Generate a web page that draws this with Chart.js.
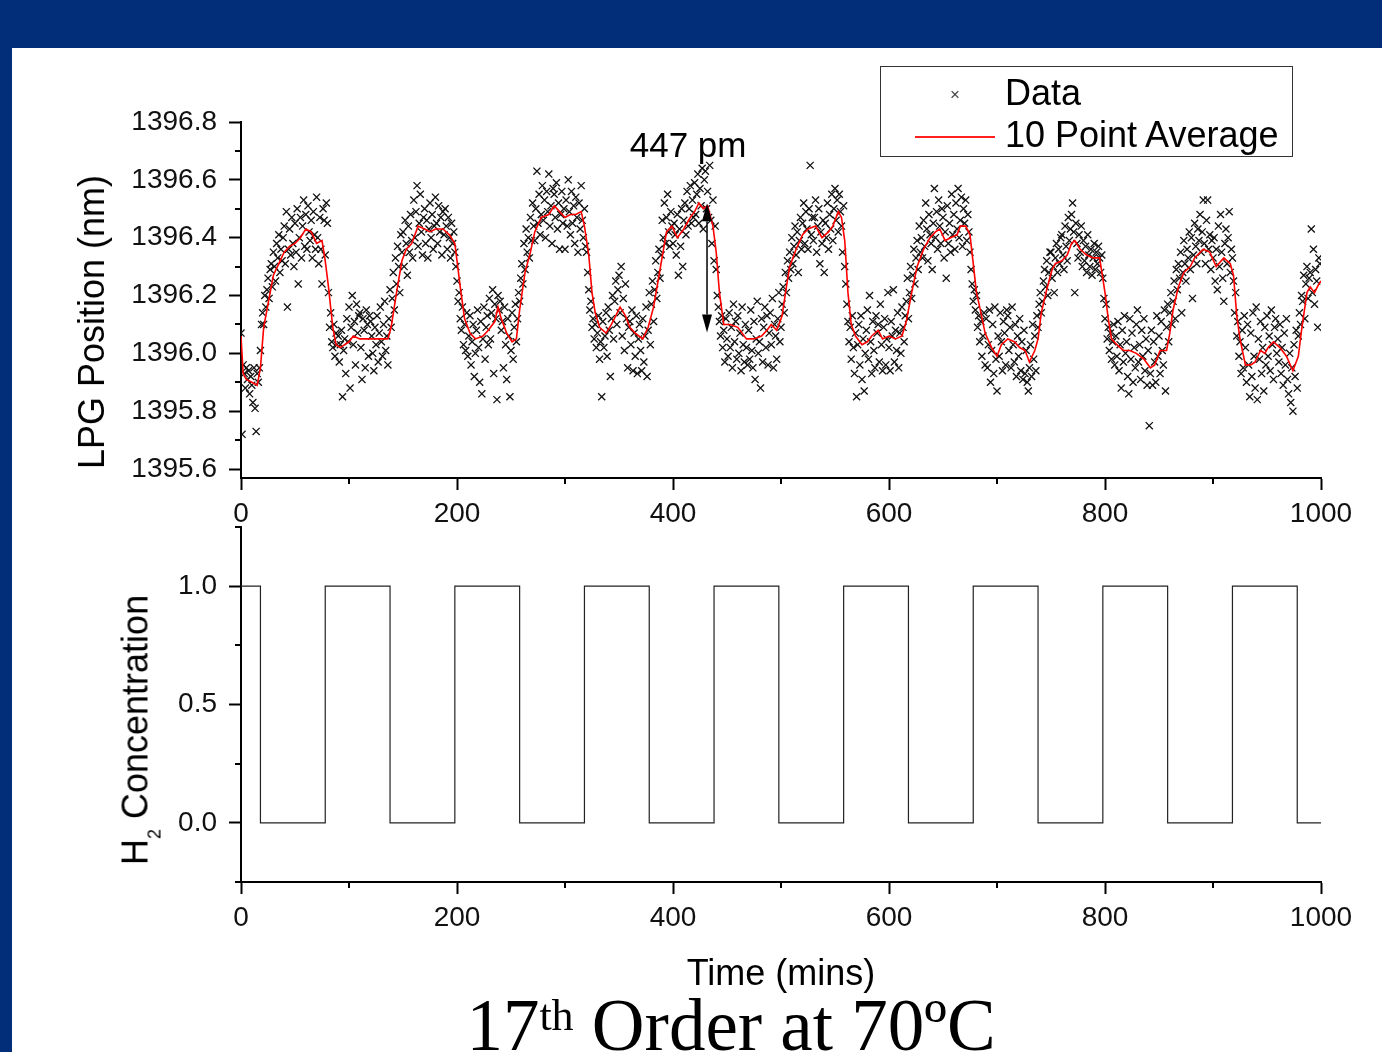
<!DOCTYPE html>
<html lang="en">

<head>
    <meta charset="UTF-8">
    <title>LPG Position - 17th Order at 70ºC</title>

    <!-- Chart.js -->
    <script src="https://cdn.jsdelivr.net/npm/chart.js@4"></script>

    <style>
        body {
            margin: 0;
            width: 1382px;
            height: 1052px;
            overflow: hidden;
            position: relative;
            background-color: #022d78;
            font-family: 'Liberation Sans', Arial, sans-serif;
            color: #000;
        }

        .panel {
            position: absolute;
            left: 12px;
            top: 48px;
            right: 0;
            bottom: 0;
            background-color: #fff;
        }

        canvas {
            position: absolute;
            left: 0;
            top: 0;
        }

        .label {
            position: absolute;
            font-size: 36px;
            line-height: 1;
            white-space: nowrap;
        }

        .rotated {
            transform: translate(-50%, -50%) rotate(-90deg);
        }

        .rotated sub {
            font-size: 18px;
            line-height: 0;
            vertical-align: -13px;
        }

        .legend {
            position: absolute;
            left: 880px;
            top: 66px;
            width: 411px;
            height: 89px;
            border: 1.5px solid #333;
        }

        .legend-marker {
            position: absolute;
            font-size: 17px;
            line-height: 1;
            color: #444;
            transform: translate(-50%, -50%);
        }

        .legend-line {
            position: absolute;
            height: 1.5px;
            background-color: #ff2020;
        }

        .slide-title {
            position: absolute;
            left: 731px;
            top: 989px;
            transform: translateX(-50%);
            font-family: 'Liberation Serif', 'Times New Roman', serif;
            font-size: 73px;
            line-height: 1;
            white-space: nowrap;
        }

        .slide-title sup {
            font-size: 44px;
            line-height: 0;
            vertical-align: 20px;
        }
    </style>
</head>

<body>
    <div class="panel"></div>

    <canvas id="lpgChart" width="1382" height="1052"></canvas>
    <canvas id="h2Chart" width="1382" height="1052"></canvas>

    <!-- Axis titles -->
    <div class="label rotated" style="left: 92px; top: 322px;">LPG Position (nm)</div>
    <div class="label rotated" style="left: 136px; top: 730px;">H<sub>2</sub> Concentration</div>
    <div class="label" style="left: 781px; top: 955px; transform: translateX(-50%);">Time (mins)</div>

    <!-- Legend -->
    <div class="legend"></div>
    <div class="legend-marker" style="left: 955px; top: 94px;">×</div>
    <div class="label" style="left: 1005px; top: 75px;">Data</div>
    <div class="legend-line" style="left: 915px; top: 136px; width: 80px;"></div>
    <div class="label" style="left: 1005px; top: 117px;">10 Point Average</div>

    <div class="slide-title">17<sup>th</sup> Order at 70ºC</div>

    <script>
        // Axis ticks
        const timeTicks = [0, 200, 400, 600, 800, 1000];
        const timeMinorTicks = [100, 300, 500, 700, 900];
        const lpgTicks = [1395.6, 1395.8, 1396.0, 1396.2, 1396.4, 1396.6, 1396.8];
        const lpgMinorTicks = [1395.7, 1395.9, 1396.1, 1396.3, 1396.5, 1396.7];
        const h2Ticks = [0, 0.5, 1.0];
        const h2MinorTicks = [-0.25, 0.25, 0.75, 1.25];

        // Raw LPG position (nm), one reading per minute from t = 0
        const sampleMinutes = 1;
        const lpgPosition = [
            1396.07, 1395.72, 1395.96, 1395.93, 1395.88, 1395.95, 1395.91, 1395.94, 1395.86, 1395.92,
            1395.89, 1395.83, 1395.95, 1395.81, 1395.73, 1395.93, 1395.90, 1395.95, 1396.01, 1396.10,
            1396.14, 1396.10, 1396.20, 1396.16, 1396.22, 1396.26, 1396.19, 1396.29, 1396.31, 1396.23,
            1396.35, 1396.30, 1396.25, 1396.38, 1396.33, 1396.41, 1396.28, 1396.36, 1396.32, 1396.40,
            1396.44, 1396.31, 1396.49, 1396.16, 1396.36, 1396.43, 1396.34, 1396.47, 1396.38, 1396.30,
            1396.45, 1396.35, 1396.50, 1396.24, 1396.40, 1396.47, 1396.33, 1396.44, 1396.53, 1396.37,
            1396.48, 1396.36, 1396.51, 1396.42, 1396.39, 1396.46, 1396.33, 1396.49, 1396.41, 1396.36,
            1396.54, 1396.40, 1396.31, 1396.47, 1396.36, 1396.24, 1396.50, 1396.46, 1396.34, 1396.52,
            1396.45, 1396.21, 1396.09, 1396.14, 1396.04, 1396.02, 1396.10, 1395.99, 1396.07, 1396.03,
            1396.06, 1395.97, 1396.03, 1396.08, 1395.85, 1396.01, 1396.05, 1395.93, 1396.12, 1396.04,
            1396.16, 1395.88, 1396.09, 1396.20, 1396.03, 1396.11, 1395.96, 1396.17, 1396.07, 1396.13,
            1396.14, 1396.02, 1395.91, 1396.12, 1396.08, 1395.95, 1396.15, 1396.10, 1395.99, 1396.13,
            1396.11, 1396.06, 1396.00, 1395.94, 1396.09, 1396.03, 1396.13, 1395.97, 1396.07, 1396.16,
            1396.04, 1395.99, 1396.10, 1396.18, 1396.01, 1396.06, 1395.96, 1396.12, 1396.22, 1396.09,
            1396.19, 1396.28, 1396.15, 1396.33, 1396.24, 1396.37, 1396.30, 1396.21, 1396.41, 1396.35,
            1396.42, 1396.30, 1396.46, 1396.38, 1396.27, 1396.44, 1396.35, 1396.48, 1396.39, 1396.33,
            1396.53, 1396.40, 1396.49, 1396.58, 1396.37, 1396.45, 1396.55, 1396.42, 1396.34, 1396.47,
            1396.50, 1396.38, 1396.46, 1396.33, 1396.43, 1396.52, 1396.40, 1396.48, 1396.36, 1396.44,
            1396.54, 1396.45, 1396.38, 1396.51, 1396.42, 1396.47, 1396.34, 1396.49, 1396.41, 1396.50,
            1396.44, 1396.36, 1396.47, 1396.40, 1396.33, 1396.45, 1396.38, 1396.42, 1396.35, 1396.30,
            1396.25, 1396.18, 1396.21, 1396.12, 1396.08, 1396.16, 1396.03, 1396.10, 1396.01, 1396.14,
            1395.99, 1396.06, 1396.13, 1395.96, 1396.04, 1396.10, 1395.92, 1396.00, 1396.08, 1396.15,
            1396.02, 1395.90, 1396.11, 1395.86, 1396.05, 1396.16, 1395.98, 1396.09, 1396.13, 1396.03,
            1396.19, 1396.05, 1396.14, 1396.22, 1395.93, 1396.17, 1396.12, 1395.84, 1396.20, 1396.15,
            1396.18, 1396.08, 1396.11, 1395.95, 1396.16, 1396.03, 1395.91, 1396.12, 1396.06, 1395.85,
            1396.01, 1396.14, 1395.98, 1396.09, 1396.17, 1396.04, 1396.12, 1396.21, 1396.18, 1396.26,
            1396.31, 1396.24, 1396.38, 1396.29, 1396.43, 1396.35, 1396.40, 1396.33, 1396.47, 1396.39,
            1396.52, 1396.44, 1396.39, 1396.50, 1396.63, 1396.45, 1396.55, 1396.41, 1396.48, 1396.58,
            1396.46, 1396.53, 1396.40, 1396.56, 1396.49, 1396.62, 1396.44, 1396.51, 1396.38, 1396.57,
            1396.55, 1396.47, 1396.59, 1396.43, 1396.52, 1396.36, 1396.48, 1396.56, 1396.45, 1396.50,
            1396.36, 1396.53, 1396.44, 1396.60, 1396.49, 1396.41, 1396.56, 1396.45, 1396.51, 1396.38,
            1396.54, 1396.47, 1396.35, 1396.52, 1396.43, 1396.58, 1396.46, 1396.40, 1396.50, 1396.37,
            1396.35, 1396.28, 1396.22, 1396.15, 1396.18, 1396.09, 1396.12, 1396.05, 1396.10, 1396.02,
            1396.07, 1396.13, 1395.98, 1396.04, 1395.85, 1396.11, 1396.02, 1396.06, 1396.14, 1395.99,
            1396.16, 1396.08, 1395.92, 1396.12, 1396.20, 1396.05, 1396.18, 1396.25, 1396.10, 1396.22,
            1396.27, 1396.14, 1396.30, 1396.06, 1396.19, 1396.01, 1396.24, 1396.12, 1395.95, 1396.09,
            1396.11, 1396.03, 1396.15, 1395.94, 1396.07, 1395.99, 1396.13, 1395.93, 1396.05, 1396.10,
            1396.01, 1395.94, 1396.12, 1395.97, 1396.06, 1396.16, 1395.92, 1396.08, 1396.21, 1396.03,
            1396.17, 1396.25, 1396.11, 1396.22, 1396.32, 1396.19, 1396.28, 1396.36, 1396.26, 1396.34,
            1396.46, 1396.40, 1396.52, 1396.38, 1396.47, 1396.55, 1396.42, 1396.37, 1396.49, 1396.44,
            1396.38, 1396.45, 1396.41, 1396.34, 1396.48, 1396.27, 1396.43, 1396.37, 1396.50, 1396.30,
            1396.46, 1396.52, 1396.41, 1396.56, 1396.44, 1396.50, 1396.58, 1396.45, 1396.53, 1396.47,
            1396.59, 1396.48, 1396.55, 1396.62, 1396.45, 1396.57, 1396.51, 1396.64, 1396.43, 1396.60,
            1396.63, 1396.50, 1396.56, 1396.47, 1396.65, 1396.46, 1396.38, 1396.53, 1396.32, 1396.44,
            1396.29, 1396.20, 1396.16, 1396.11, 1396.06, 1396.13, 1396.02, 1396.08, 1395.97, 1396.12,
            1396.05, 1395.99, 1396.14, 1396.02, 1396.09, 1395.95, 1396.17, 1396.04, 1396.11, 1395.98,
            1396.13, 1396.00, 1396.07, 1395.94, 1396.16, 1396.03, 1395.97, 1396.10, 1396.02, 1395.96,
            1396.08, 1395.98, 1396.15, 1396.01, 1395.95, 1396.11, 1395.91, 1396.05, 1396.18, 1396.00,
            1396.04, 1395.88, 1396.12, 1395.97, 1396.09, 1396.16, 1396.02, 1396.13, 1395.96, 1396.07,
            1396.14, 1396.03, 1396.19, 1395.95, 1396.10, 1396.06, 1395.98, 1396.12, 1396.21, 1396.04,
            1396.09, 1396.17, 1396.23, 1396.14, 1396.28, 1396.21, 1396.32, 1396.26, 1396.35, 1396.29,
            1396.40, 1396.31, 1396.37, 1396.44, 1396.34, 1396.42, 1396.28, 1396.39, 1396.47, 1396.36,
            1396.45, 1396.52, 1396.38, 1396.49, 1396.43, 1396.36, 1396.50, 1396.65, 1396.41, 1396.47,
            1396.39, 1396.47, 1396.53, 1396.35, 1396.44, 1396.50, 1396.31, 1396.42, 1396.38, 1396.46,
            1396.28, 1396.45, 1396.40, 1396.52, 1396.36, 1396.48, 1396.43, 1396.55, 1396.39, 1396.50,
            1396.57, 1396.46, 1396.53, 1396.42, 1396.55, 1396.49, 1396.44, 1396.35, 1396.51, 1396.30,
            1396.24, 1396.17, 1396.11, 1396.04, 1396.09, 1395.98, 1396.13, 1396.02, 1395.93, 1396.07,
            1395.85, 1396.03, 1396.10, 1395.96, 1396.13, 1395.91, 1396.05, 1395.87, 1396.00, 1396.08,
            1396.15, 1395.98, 1396.20, 1396.04, 1395.93, 1396.11, 1396.01, 1395.95, 1396.13, 1396.07,
            1396.10, 1395.97, 1396.17, 1396.03, 1395.94, 1396.09, 1396.12, 1395.96, 1396.05, 1396.21,
            1396.02, 1395.94, 1396.11, 1396.06, 1396.22, 1395.97, 1396.08, 1396.01, 1396.14, 1395.95,
            1396.07, 1396.00, 1396.16, 1396.09, 1396.04, 1396.13, 1396.18, 1396.26, 1396.12, 1396.21,
            1396.30, 1396.19, 1396.27, 1396.36, 1396.24, 1396.33, 1396.39, 1396.29, 1396.44, 1396.35,
            1396.40, 1396.33, 1396.46, 1396.37, 1396.52, 1396.43, 1396.32, 1396.48, 1396.41, 1396.38,
            1396.29, 1396.45, 1396.57, 1396.40, 1396.49, 1396.36, 1396.53, 1396.44, 1396.38, 1396.50,
            1396.47, 1396.33, 1396.42, 1396.26, 1396.51, 1396.38, 1396.45, 1396.35, 1396.55, 1396.41,
            1396.48, 1396.36, 1396.52, 1396.43, 1396.57, 1396.40, 1396.46, 1396.54, 1396.37, 1396.50,
            1396.45, 1396.53, 1396.39, 1396.48, 1396.42, 1396.35, 1396.29, 1396.24, 1396.18, 1396.22,
            1396.15, 1396.20, 1396.09, 1396.13, 1396.04, 1396.11, 1395.99, 1396.06, 1396.14, 1395.96,
            1396.12, 1395.95, 1396.03, 1396.15, 1395.90, 1396.01, 1396.10, 1395.93, 1396.16, 1395.98,
            1395.87, 1396.06, 1395.99, 1396.14, 1396.04, 1395.94, 1396.11, 1396.07, 1395.96, 1396.15,
            1396.13, 1396.01, 1396.09, 1395.95, 1396.16, 1396.03, 1395.97, 1396.10, 1395.92, 1396.06,
            1395.99, 1396.12, 1395.94, 1396.04, 1395.91, 1396.08, 1395.93, 1396.01, 1395.90, 1395.87,
            1395.95, 1396.03, 1395.92, 1396.10, 1395.98, 1396.06, 1395.94, 1396.13, 1396.09, 1396.17,
            1396.21, 1396.14, 1396.18, 1396.25, 1396.29, 1396.23, 1396.32, 1396.20, 1396.28, 1396.35,
            1396.35, 1396.26, 1396.30, 1396.21, 1396.33, 1396.38, 1396.28, 1396.36, 1396.31, 1396.40,
            1396.41, 1396.34, 1396.29, 1396.44, 1396.37, 1396.32, 1396.47, 1396.39, 1396.43, 1396.48,
            1396.52, 1396.42, 1396.21, 1396.45, 1396.38, 1396.33, 1396.41, 1396.35, 1396.44, 1396.30,
            1396.39, 1396.32, 1396.37, 1396.28, 1396.41, 1396.34, 1396.30, 1396.36, 1396.27, 1396.33,
            1396.38, 1396.29, 1396.35, 1396.31, 1396.37, 1396.33, 1396.28, 1396.34, 1396.26, 1396.19,
            1396.12, 1396.17, 1396.05, 1396.09, 1396.01, 1396.07, 1395.98, 1396.04, 1396.10, 1395.96,
            1396.06, 1395.99, 1396.11, 1395.94, 1396.03, 1395.88, 1396.08, 1395.97, 1396.13, 1396.00,
            1396.04, 1395.92, 1395.86, 1396.12, 1395.98, 1396.07, 1395.90, 1396.02, 1395.95, 1396.10,
            1396.15, 1395.97, 1396.03, 1395.91, 1396.08, 1395.99, 1396.12, 1395.94, 1396.05, 1395.89,
            1396.01, 1395.75, 1395.93, 1396.08, 1395.89, 1396.04, 1395.97, 1395.90, 1396.13, 1395.99,
            1396.06, 1395.93, 1396.11, 1396.01, 1395.96, 1396.15, 1395.87, 1396.09, 1396.17, 1396.04,
            1396.14, 1396.21, 1396.10, 1396.18, 1396.25, 1396.12, 1396.29, 1396.22, 1396.31, 1396.26,
            1396.35, 1396.14, 1396.28, 1396.39, 1396.31, 1396.25, 1396.36, 1396.33, 1396.42, 1396.29,
            1396.40, 1396.19, 1396.34, 1396.45, 1396.37, 1396.31, 1396.43, 1396.39, 1396.48, 1396.35,
            1396.42, 1396.53, 1396.38, 1396.31, 1396.46, 1396.53, 1396.36, 1396.41, 1396.29, 1396.39,
            1396.33, 1396.40, 1396.25, 1396.36, 1396.22, 1396.44, 1396.30, 1396.48, 1396.35, 1396.26,
            1396.18, 1396.38, 1396.43, 1396.31, 1396.40, 1396.49, 1396.28, 1396.36, 1396.33, 1396.25,
            1396.14, 1396.21, 1396.06, 1396.11, 1395.99, 1396.04, 1395.93, 1396.08, 1395.95, 1396.13,
            1396.02, 1395.90, 1396.10, 1395.96, 1395.85, 1396.07, 1395.92, 1396.14, 1395.99, 1395.88,
            1396.16, 1395.84, 1396.05, 1395.98, 1396.11, 1395.93, 1396.02, 1395.87, 1396.09, 1395.96,
            1396.13, 1395.99, 1396.06, 1395.94, 1396.15, 1396.03, 1395.91, 1396.09, 1396.12, 1396.00,
            1396.05, 1395.97, 1396.10, 1395.93, 1396.02, 1395.89, 1396.07, 1395.96, 1396.12, 1395.91,
            1395.86, 1396.00, 1395.83, 1395.95, 1395.80, 1396.03, 1395.92, 1396.08, 1395.88, 1396.06,
            1396.14, 1396.10, 1396.20, 1396.18, 1396.27, 1396.12, 1396.24, 1396.30, 1396.19, 1396.26,
            1396.28, 1396.43, 1396.21, 1396.36, 1396.17, 1396.29, 1396.25, 1396.09, 1396.33, 1396.31
        ];

        // 10 point average, read at its turning points
        const avgTime = [
            0, 2, 5, 10, 15, 18, 21, 25, 30, 35,
            40, 45, 50, 55, 60, 65, 70, 75, 78, 81,
            85, 88, 92, 96, 100, 104, 110, 120, 130, 136,
            139, 144, 149, 153, 158, 164, 170, 175, 180, 187,
            193, 198, 203, 207, 212, 217, 224, 229, 235, 238,
            241, 246, 251, 255, 258, 263, 268, 272, 278, 285,
            290, 295, 300, 305, 310, 315, 318, 322, 325, 328,
            332, 338, 343, 351, 356, 360, 365, 372, 377, 382,
            388, 394, 399, 404, 410, 416, 420, 424, 428, 432,
            437, 440, 443, 447, 453, 460, 468, 475, 482, 487,
            491, 496, 501, 505, 508, 514, 520, 525, 532, 538,
            544, 548, 553, 556, 559, 562, 565, 569, 575, 580,
            584, 590, 594, 600, 606, 612, 616, 621, 626, 632,
            638, 643, 647, 652, 657, 663, 666, 671, 675, 678,
            681, 684, 689, 695, 700, 704, 710, 716, 721, 726,
            730, 735, 738, 741, 746, 751, 754, 760, 765, 769,
            772, 777, 783, 789, 795, 800, 803, 806, 811, 817,
            823, 829, 836, 842, 846, 851, 857, 860, 863, 868,
            873, 879, 883, 891, 897, 903, 910, 916, 919, 922,
            925, 930, 935, 939, 944, 948, 951, 956, 962, 968,
            974, 979, 982, 987, 990, 994, 998, 1000
        ];
        const avgValue = [
            1396.06, 1395.93, 1395.91, 1395.90, 1395.89, 1395.95, 1396.09, 1396.17, 1396.27, 1396.31,
            1396.35, 1396.37, 1396.38, 1396.40, 1396.43, 1396.42, 1396.38, 1396.39, 1396.32, 1396.23,
            1396.09, 1396.03, 1396.02, 1396.03, 1396.04, 1396.06, 1396.05, 1396.05, 1396.05, 1396.05,
            1396.09, 1396.21, 1396.32, 1396.36, 1396.38, 1396.44, 1396.43, 1396.42, 1396.43, 1396.43,
            1396.41, 1396.38, 1396.23, 1396.12, 1396.07, 1396.05, 1396.06, 1396.08, 1396.11, 1396.16,
            1396.12, 1396.07, 1396.04, 1396.05, 1396.15, 1396.28, 1396.35, 1396.42, 1396.47, 1396.48,
            1396.51, 1396.49, 1396.47, 1396.48, 1396.48, 1396.49, 1396.44, 1396.34, 1396.21, 1396.14,
            1396.09, 1396.07, 1396.10, 1396.16, 1396.13, 1396.09, 1396.07, 1396.05, 1396.09, 1396.16,
            1396.29, 1396.42, 1396.44, 1396.40, 1396.43, 1396.47, 1396.49, 1396.52, 1396.50, 1396.51,
            1396.44, 1396.35, 1396.21, 1396.10, 1396.10, 1396.09, 1396.05, 1396.05, 1396.06, 1396.08,
            1396.10, 1396.08, 1396.13, 1396.23, 1396.30, 1396.36, 1396.41, 1396.43, 1396.44, 1396.40,
            1396.42, 1396.44, 1396.49, 1396.47, 1396.39, 1396.21, 1396.10, 1396.06, 1396.03, 1396.04,
            1396.06, 1396.08, 1396.05, 1396.06, 1396.05, 1396.06, 1396.11, 1396.21, 1396.30, 1396.36,
            1396.40, 1396.42, 1396.43, 1396.39, 1396.40, 1396.41, 1396.44, 1396.44, 1396.41, 1396.31,
            1396.21, 1396.16, 1396.07, 1396.02, 1395.99, 1396.03, 1396.05, 1396.04, 1396.02, 1396.01,
            1395.97, 1396.01, 1396.05, 1396.14, 1396.22, 1396.29, 1396.31, 1396.32, 1396.34, 1396.38,
            1396.39, 1396.36, 1396.34, 1396.33, 1396.33, 1396.21, 1396.12, 1396.05, 1396.03, 1396.01,
            1396.01, 1396.00, 1395.98, 1395.95, 1395.96, 1396.01, 1396.01, 1396.07, 1396.15, 1396.23,
            1396.28, 1396.30, 1396.33, 1396.36, 1396.35, 1396.30, 1396.33, 1396.31, 1396.27, 1396.13,
            1396.05, 1395.96, 1395.96, 1395.97, 1396.01, 1396.00, 1396.02, 1396.04, 1396.02, 1395.99,
            1395.94, 1395.99, 1396.08, 1396.21, 1396.23, 1396.21, 1396.24, 1396.25
        ];

        // Peak-to-trough shift marked on the fourth cycle
        const shiftTime = 431.5;
        const shiftTopNm = 1396.519;
        const shiftPm = 447;

        // H2 on/off schedule: level held from each switch time to the next
        const h2Time = [0, 18, 78, 138, 198, 258, 318, 378, 438, 498, 558, 618, 678, 738, 798, 858, 918, 978, 1000];
        const h2Level = [1, 0, 1, 0, 1, 0, 1, 0, 1, 0, 1, 0, 1, 0, 1, 0, 1, 0, 0];

        // Shared styling
        const tickFont = { family: "'Liberation Sans', Arial, sans-serif", size: 28 };

        function linearAxis(min, max, major, format, fitSize, padding) {
            return {
                type: 'linear',
                min: min,
                max: max,
                afterBuildTicks: scale => { scale.ticks = major.map(v => ({ value: v })); },
                afterFit: scale => {
                    if (scale.isHorizontal()) scale.height = fitSize;
                    else scale.width = fitSize;
                },
                border: { display: true, color: '#000', width: 2 },
                grid: { drawOnChartArea: false, drawTicks: true, tickLength: 12, tickWidth: 2, tickColor: '#000' },
                ticks: { color: '#111', font: tickFont, padding: padding, autoSkip: false, maxRotation: 0, callback: format }
            };
        }

        // Short unlabelled ticks between the major ones
        const minorTicks = {
            id: 'minorTicks',
            afterDraw(chart, args, opts) {
                const { ctx, scales: { x, y } } = chart;
                ctx.save();
                ctx.strokeStyle = '#000';
                ctx.lineWidth = 2;
                ctx.beginPath();
                opts.x.forEach(v => {
                    const px = Math.round(x.getPixelForValue(v));
                    ctx.moveTo(px, x.top);
                    ctx.lineTo(px, x.top + opts.length);
                });
                opts.y.forEach(v => {
                    const py = Math.round(y.getPixelForValue(v));
                    ctx.moveTo(y.right - opts.length, py);
                    ctx.lineTo(y.right, py);
                });
                ctx.stroke();
                ctx.restore();
            }
        };

        // Double-headed arrow with its size label
        const shiftArrow = {
            id: 'shiftArrow',
            afterDatasetsDraw(chart, args, o) {
                const { ctx, scales: { x, y } } = chart;
                const px = x.getPixelForValue(o.time);
                const yTop = y.getPixelForValue(o.top);
                const yBottom = y.getPixelForValue(o.top - o.pm / 1000);
                const head = 18, half = 5;

                ctx.save();
                ctx.strokeStyle = '#000';
                ctx.fillStyle = '#000';
                ctx.lineWidth = 1.5;
                ctx.beginPath();
                ctx.moveTo(px, yTop + head);
                ctx.lineTo(px, yBottom - head);
                ctx.stroke();

                ctx.beginPath();
                ctx.moveTo(px, yTop);
                ctx.lineTo(px - half, yTop + head);
                ctx.lineTo(px + half, yTop + head);
                ctx.closePath();
                ctx.fill();

                ctx.beginPath();
                ctx.moveTo(px, yBottom);
                ctx.lineTo(px - half, yBottom - head);
                ctx.lineTo(px + half, yBottom - head);
                ctx.closePath();
                ctx.fill();

                ctx.font = "35px 'Liberation Sans', Arial, sans-serif";
                ctx.textAlign = 'center';
                ctx.textBaseline = 'alphabetic';
                ctx.fillText(o.pm + ' pm', x.getPixelForValue(o.labelTime), y.getPixelForValue(o.labelValue));
                ctx.restore();
            }
        };

        // LPG position chart
        function createLpgChart() {
            const ctx = document.getElementById('lpgChart').getContext('2d');
            const points = lpgPosition.map((v, i) => ({ x: i * sampleMinutes, y: v }));
            const average = avgTime.map((t, i) => ({ x: t, y: avgValue[i] }));

            new Chart(ctx, {
                type: 'scatter',
                data: {
                    datasets: [{
                        label: 'Data',
                        data: points,
                        pointStyle: 'crossRot',
                        pointRadius: 5,
                        borderWidth: 1.3,
                        borderColor: '#111',
                        order: 2
                    }, {
                        type: 'line',
                        label: '10 Point Average',
                        data: average,
                        borderColor: '#ff0000',
                        borderWidth: 1.6,
                        pointRadius: 0,
                        tension: 0,
                        fill: false,
                        order: 1
                    }]
                },
                options: {
                    responsive: false,
                    animation: false,
                    events: [],
                    layout: { padding: { top: 122, right: 61, bottom: 512, left: 0 } },
                    plugins: {
                        legend: { display: false },
                        tooltip: { enabled: false },
                        minorTicks: { x: timeMinorTicks, y: lpgMinorTicks, length: 6 },
                        shiftArrow: { time: shiftTime, top: shiftTopNm, pm: shiftPm, labelTime: 414, labelValue: 1396.68 }
                    },
                    scales: {
                        x: linearAxis(0, 1000, timeTicks, v => String(v), 62, 7),
                        y: linearAxis(1395.569, 1396.8, lpgTicks, v => v.toFixed(1), 241, 12)
                    }
                },
                plugins: [minorTicks, shiftArrow]
            });
        }

        // H2 concentration square wave
        function createH2Chart() {
            const ctx = document.getElementById('h2Chart').getContext('2d');
            const wave = [];
            for (let i = 0; i < h2Time.length - 1; i++) {
                wave.push({ x: h2Time[i], y: h2Level[i] });
                wave.push({ x: h2Time[i + 1], y: h2Level[i] });
            }

            new Chart(ctx, {
                type: 'line',
                data: {
                    datasets: [{
                        label: 'H2 Concentration',
                        data: wave,
                        borderColor: '#222',
                        borderWidth: 1.2,
                        pointRadius: 0,
                        tension: 0,
                        fill: false
                    }]
                },
                options: {
                    responsive: false,
                    animation: false,
                    events: [],
                    layout: { padding: { top: 527, right: 61, bottom: 108, left: 0 } },
                    plugins: {
                        legend: { display: false },
                        tooltip: { enabled: false },
                        minorTicks: { x: timeMinorTicks, y: h2MinorTicks, length: 6 }
                    },
                    scales: {
                        x: linearAxis(0, 1000, timeTicks, v => String(v), 62, 7),
                        y: linearAxis(-0.25, 1.25, h2Ticks, v => v.toFixed(1), 241, 12)
                    }
                },
                plugins: [minorTicks]
            });
        }

        window.addEventListener('load', () => {
            createLpgChart();
            createH2Chart();
        });
    </script>
</body>

</html>
